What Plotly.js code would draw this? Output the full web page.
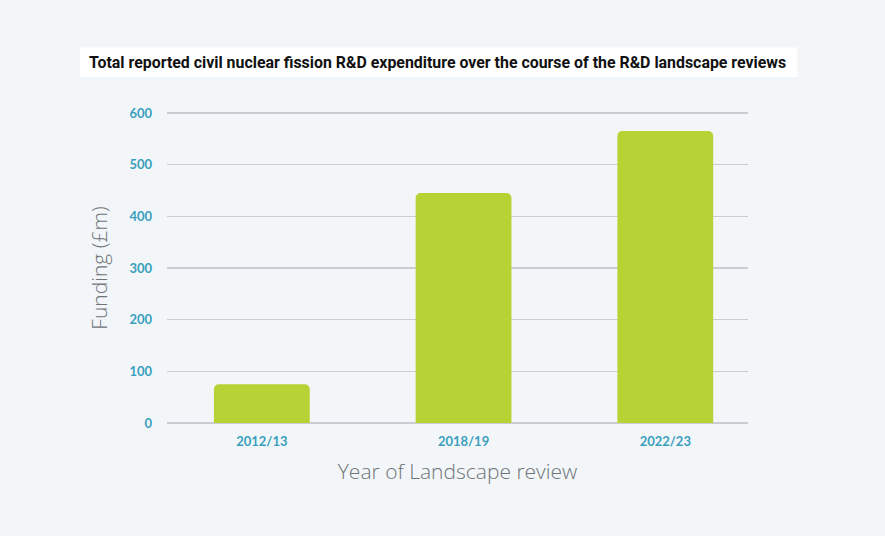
<!DOCTYPE html>
<html>
<head>
<meta charset="utf-8">
<script src="https://cdn.plot.ly/plotly-3.0.1.min.js"></script>
<style>html,body{margin:0;padding:0;background:#f2f6f9;}#chart{width:885px;height:536px;}</style>
</head>
<body>
<div id="chart"></div>
<script>
const categories = ["2012/13", "2018/19", "2022/23"];
const funding = [75, 445, 565];
const yTicks = [0, 100, 200, 300, 400, 500, 600];
const chartTitle = "Total reported civil nuclear fission R&D expenditure over the course of the R&D landscape reviews";

const trace = {
  type: "bar",
  x: categories,
  y: funding,
  width: 0.475,
  marker: {color: "#b5d334", cornerradius: 5},
  hoverinfo: "x+y"
};

const layout = {
  width: 885, height: 536,
  paper_bgcolor: "#f2f6f9",
  plot_bgcolor: "#f2f6f9",
  margin: {l: 167, r: 137, t: 112, b: 112},
  showlegend: false,
  xaxis: {
    type: "category",
    range: [-0.47, 2.41],
    showgrid: false,
    zeroline: false,
    showline: false,
    ticks: "",
    ticklabelstandoff: 8,
    tickfont: {family: "Lato, Open Sans, sans-serif", size: 13, color: "#3a9fbd", weight: "bold"},
    title: {text: "Year of Landscape review", font: {family: "Open Sans, sans-serif", size: 21, color: "#6f7478", weight: 300}, standoff: 16}
  },
  yaxis: {
    range: [-2, 602],
    tickvals: yTicks,
    ticktext: yTicks.map(String),
    showgrid: true,
    gridcolor: "#c9cdd1",
    gridwidth: 1.5,
    zeroline: false,
    showline: false,
    ticks: "",
    ticklabelstandoff: 14,
    tickfont: {family: "Lato, Open Sans, sans-serif", size: 13, color: "#3a9fbd", weight: "bold"},
    title: {text: "Funding (£m)", font: {family: "Open Sans, sans-serif", size: 21, color: "#6f7478", weight: 300}, standoff: 16}
  },
  shapes: [{
    type: "rect", xref: "paper", yref: "paper", layer: "below",
    x0: -0.150, x1: 1.085, y0: 1.112, y1: 1.207,
    fillcolor: "#ffffff", line: {width: 0}
  }],
  annotations: [{
    text: chartTitle,
    xref: "paper", yref: "paper",
    x: -0.137, y: 1.160, xanchor: "left", yanchor: "middle",
    showarrow: false,
    font: {family: "Roboto, sans-serif", size: 15.9, color: "#111111", weight: "bold"}
  }]
};

Plotly.newPlot("chart", [trace], layout, {displayModeBar: false, staticPlot: true});
</script>
</body>
</html>
